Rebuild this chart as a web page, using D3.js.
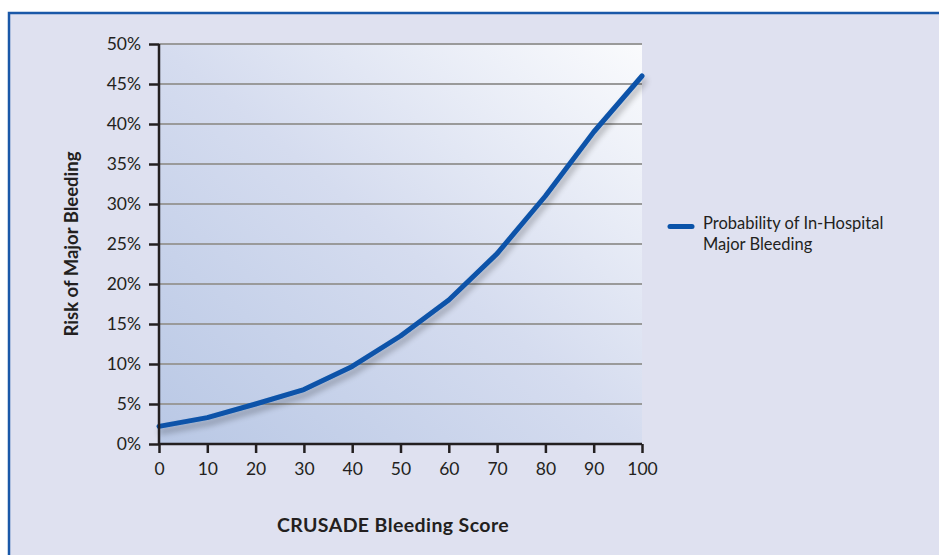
<!DOCTYPE html>
<html><head><meta charset="utf-8">
<script src="https://cdn.jsdelivr.net/npm/d3@7"></script>
<style>body{margin:0;background:#fff}svg{display:block}</style>
</head><body>
<svg id="c" width="939" height="555"></svg>
<script>
const scores = [0,10,20,30,40,50,60,70,80,90,100];
const risk = [2.2,3.3,5.0,6.8,9.7,13.5,18.0,23.8,31.0,39.0,46.0];
const yTicks = [0,5,10,15,20,25,30,35,40,45,50];
const xTicks = [0,10,20,30,40,50,60,70,80,90,100];
const seriesName = ["Probability of In-Hospital","Major Bleeding"];
const xTitle = "CRUSADE Bleeding Score";
const yTitle = "Risk of Major Bleeding";

const svg = d3.select("#c");
const font = "Lato, 'Open Sans', sans-serif";
const defs = svg.append("defs");
const g1 = defs.append("linearGradient").attr("id","bg").attr("x1","0").attr("y1","1").attr("x2","1").attr("y2","0");
g1.append("stop").attr("offset","0").attr("stop-color","#b9c8e5");
g1.append("stop").attr("offset","0.5").attr("stop-color","#d5dcef");
g1.append("stop").attr("offset","1").attr("stop-color","#fafbfd");
const f = defs.append("filter").attr("id","sh").attr("x","-10%").attr("y","-10%").attr("width","120%").attr("height","130%");
f.append("feGaussianBlur").attr("in","SourceAlpha").attr("stdDeviation","3").attr("result","b");
f.append("feOffset").attr("in","b").attr("dx","2").attr("dy","5").attr("result","o");
f.append("feComponentTransfer").attr("in","o").attr("result","o2").append("feFuncA").attr("type","linear").attr("slope","0.3");
const m = f.append("feMerge"); m.append("feMergeNode").attr("in","o2"); m.append("feMergeNode").attr("in","SourceGraphic");

// frame
svg.append("rect").attr("x",9).attr("y",13).attr("width",940).attr("height",560).attr("fill","#dfe1f0").attr("stroke","#1a58a8").attr("stroke-width",2.5);

const L=159, R=642, T=44, B=444;
const x = d3.scaleLinear().domain([0,100]).range([L,R]);
const y = d3.scaleLinear().domain([0,50]).range([B,T]);

svg.append("rect").attr("x",L).attr("y",T).attr("width",R-L).attr("height",B-T).attr("fill","url(#bg)");

// gridlines
svg.append("g").selectAll("line").data(yTicks.filter(d=>d>0)).join("line")
  .attr("x1",L).attr("x2",R).attr("y1",d=>y(d)).attr("y2",d=>y(d))
  .attr("stroke","#9a9a9a").attr("stroke-width",2);

// line
const line = d3.line().x((d,i)=>x(scores[i])).y(d=>y(d)).curve(d3.curveLinear);
svg.append("path").datum(risk).attr("d",line).attr("fill","none").attr("stroke","#0a53a9")
  .attr("stroke-width",5).attr("stroke-linecap","round").attr("stroke-linejoin","round").attr("filter","url(#sh)");

// axes
const ya = svg.append("g").attr("transform",`translate(${L},0)`)
  .call(d3.axisLeft(y).tickValues(yTicks).tickFormat(d=>d+"%").tickSize(10).tickPadding(8));
const xa = svg.append("g").attr("transform",`translate(0,${B})`)
  .call(d3.axisBottom(x).tickValues(xTicks).tickSize(9).tickPadding(10));
[ya,xa].forEach(a=>{
  a.select(".domain").attr("stroke","#231f20").attr("stroke-width",2.5);
  a.selectAll(".tick line").attr("stroke","#231f20").attr("stroke-width",2.5);
  a.selectAll("text").attr("font-family",font).attr("font-size",17.5).attr("fill","#231f20");
});
xa.select(".domain").attr("d",`M${L},0H${R}`);
ya.select(".domain").attr("d",`M0,${T}V${B}`);

svg.append("text").attr("x",393).attr("y",532).attr("text-anchor","middle")
  .attr("font-family",font).attr("font-weight","bold").attr("font-size",19.5).attr("letter-spacing",0.4).attr("fill","#231f20").text(xTitle);
svg.append("text").attr("transform","translate(78,244) rotate(-90)").attr("text-anchor","middle")
  .attr("font-family",font).attr("font-weight","bold").attr("font-size",18.5).attr("fill","#231f20").text(yTitle);

// legend
svg.append("line").attr("x1",670).attr("x2",692).attr("y1",226.5).attr("y2",226.5)
  .attr("stroke","#0a53a9").attr("stroke-width",5).attr("stroke-linecap","round");
svg.append("text").attr("x",703).attr("y",229).attr("font-family",font).attr("font-size",16.5).attr("fill","#231f20")
  .selectAll("tspan").data(seriesName).join("tspan").attr("x",703).attr("dy",(d,i)=>i?21:0).text(d=>d);
</script>
</body></html>
